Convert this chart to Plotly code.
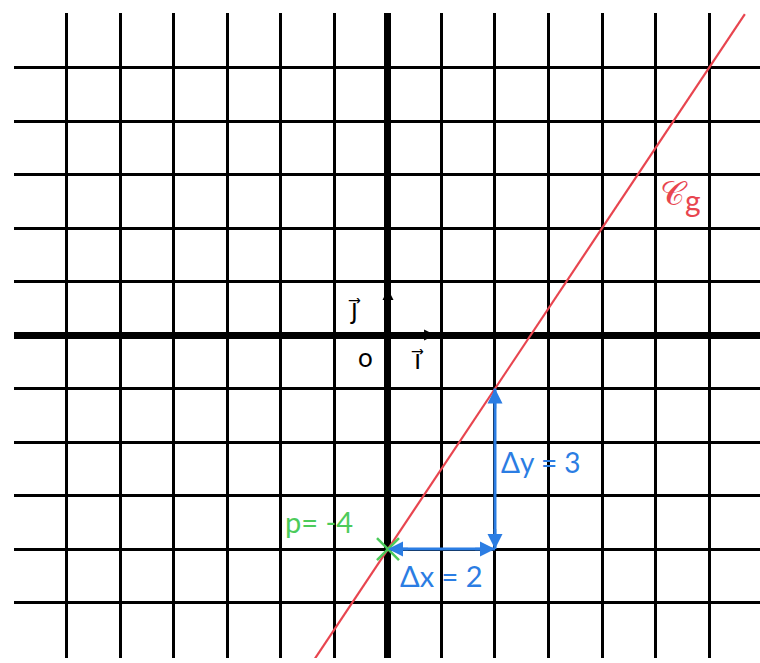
import plotly.graph_objects as go

# grid (units of the repère)
grid_x = list(range(-6, 7))
grid_y = list(range(-5, 6))

# droite C_g : y = 1.5x - 4
line_x = [-1.4, 0, 2, 6.67]
line_y = [-6.1, -4, -1, 6.0]

# ordonnée à l'origine p and slope triangle
p_point = (0, -4)
dx_start, dx_end = (0, -4), (2, -4)
dy_start, dy_end = (2, -4), (2, -1)

RED = "#e8454f"
BLUE = "#2b7de3"
GREEN = "#4ccb5b"
FONT = "Lato, DejaVu Sans, sans-serif"

fig = go.Figure()

fig.add_trace(go.Scatter(
    x=line_x, y=line_y, mode="lines",
    line=dict(color=RED, width=2.2), showlegend=False, hoverinfo="skip",
))

# slope triangle arrows
fig.add_trace(go.Scatter(
    x=[dx_start[0], dx_end[0]], y=[dx_start[1], dx_end[1]], mode="lines",
    line=dict(color=BLUE, width=3), showlegend=False, hoverinfo="skip",
))
fig.add_trace(go.Scatter(
    x=[dy_start[0], dy_end[0]], y=[dy_start[1], dy_end[1]], mode="lines",
    line=dict(color=BLUE, width=3), showlegend=False, hoverinfo="skip",
))

fig.add_trace(go.Scatter(
    x=[p_point[0]], y=[p_point[1]], mode="markers",
    marker=dict(symbol="x-thin-open", size=22, color=GREEN,
                line=dict(color=GREEN, width=2.5)),
    showlegend=False, hoverinfo="skip",
))

def head(x, y, ax, ay, color, width=2.5, size=1.2):
    fig.add_annotation(
        x=x, y=y, ax=ax, ay=ay, xref="x", yref="y", axref="x", ayref="y",
        showarrow=True, arrowhead=2, arrowsize=size, arrowwidth=width,
        arrowcolor=color, text="",
    )

# arrow heads on the Δ arrows
head(dx_end[0], dx_end[1], dx_end[0] - 0.4, dx_end[1], BLUE)
head(dx_start[0], dx_start[1], dx_start[0] + 0.4, dx_start[1], BLUE)
head(dy_end[0], dy_end[1], dy_end[0], dy_end[1] - 0.4, BLUE)
head(dy_start[0], dy_start[1], dy_start[0], dy_start[1] + 0.4, BLUE)

# unit vectors i and j
head(0.88, 0, 0.3, 0, "black", width=2, size=1.1)
head(0, 0.86, 0, 0.3, "black", width=2, size=1.1)

texts = [
    ("Δy = 3", 2.08, -2.37, BLUE, 28, "left"),
    ("Δx = 2", 0.18, -4.5, BLUE, 29, "left"),
    ("p= -4", -1.97, -3.48, GREEN, 29, "left"),
    ("𝒞<sub><span style='font-size:30px'>g</span></sub>", 5.05, 2.62, RED, 34, "left"),
    ("o", -0.42, -0.42, "black", 26, "center"),
    ("i⃗", 0.55, -0.45, "black", 26, "center"),
    ("j⃗", -0.62, 0.5, "black", 26, "center"),
]
for t, x, y, c, s, anc in texts:
    fig.add_annotation(x=x, y=y, text=t, showarrow=False, xanchor=anc,
                       font=dict(color=c, size=s, family=FONT))

# the plot area runs past the window's right edge so the horizontals reach it
fig.update_xaxes(
    range=[-6.99, 7.327], tickvals=grid_x, showticklabels=False, ticks="",
    showgrid=True, gridcolor="black", gridwidth=3,
    zeroline=True, zerolinecolor="black", zerolinewidth=7, showline=False,
)
fig.update_yaxes(
    range=[-6.037, 6.019], tickvals=grid_y, showticklabels=False, ticks="",
    showgrid=True, gridcolor="black", gridwidth=3,
    zeroline=True, zerolinecolor="black", zerolinewidth=7, showline=False,
)
fig.update_layout(
    width=780, height=663,
    margin=dict(l=14, r=0, t=13, b=5),
    plot_bgcolor="white", paper_bgcolor="white",
)

# drop the default body margin and any scrollbar gutter
fig.write_html(
    "out.html",
    config={"displayModeBar": False},
    post_script=(
        "document.documentElement.style.overflow='hidden';"
        "document.body.style.margin='0';document.body.style.overflow='hidden';"
    ),
)
